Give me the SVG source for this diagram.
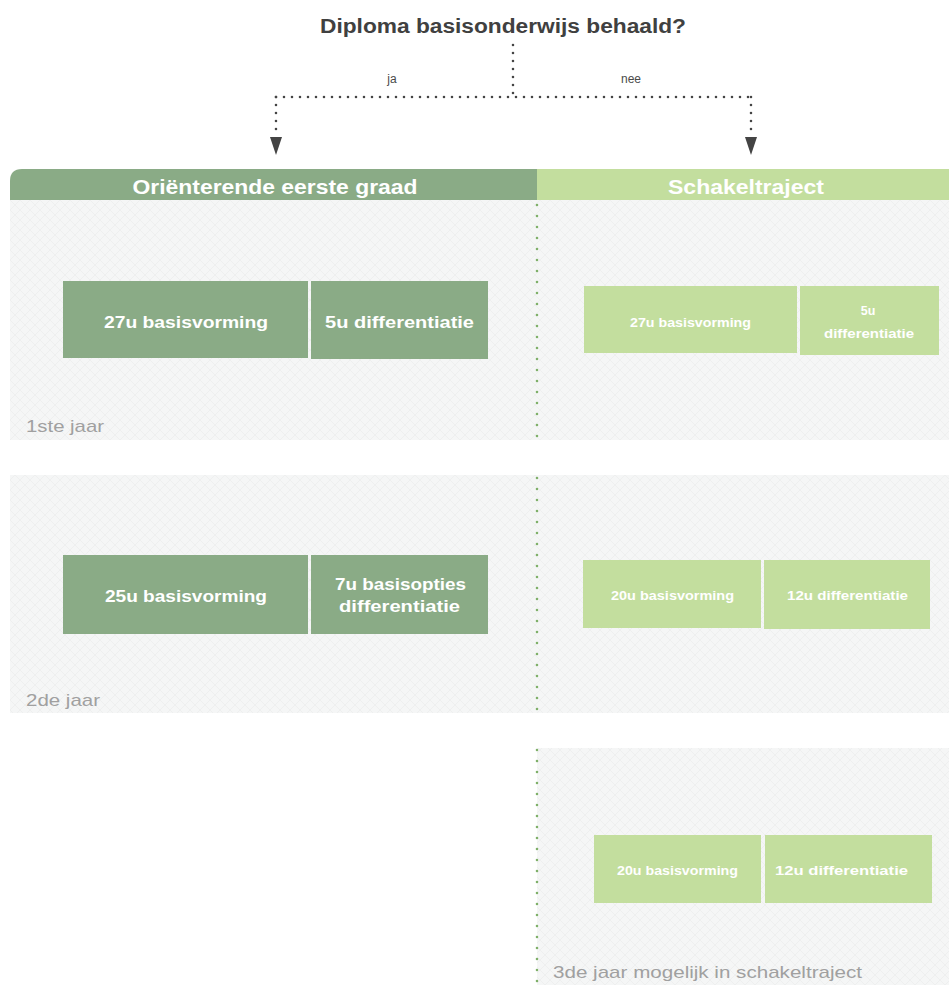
<svg xmlns="http://www.w3.org/2000/svg" width="949" height="985" viewBox="0 0 949 985">
<style>
.t{font-family:"Liberation Sans",Arial,sans-serif}
.dk{fill:#8aab86}
.lt{fill:#c3de9e}
.wb{fill:#ffffff;font-weight:bold}
.yr{fill:#a0a0a0;font-size:17px}
.dot{stroke:#444;stroke-width:2.6;stroke-linecap:round;stroke-dasharray:0 8;fill:none}
.gdot{stroke:#7fb069;stroke-width:2.6;stroke-linecap:round;stroke-dasharray:0 11;fill:none}
</style>
<defs>
<pattern id="hatch" width="10" height="10" patternUnits="userSpaceOnUse">
<rect width="10" height="10" fill="#f5f6f6"/>
<path d="M0,0 L10,10 M10,0 L0,10" stroke="#eeefef" stroke-width="1"/>
</pattern>
</defs>
<rect width="949" height="985" fill="#ffffff"/>

<g id="title">
<text class="t" x="503" y="33" text-anchor="middle" font-size="20" font-weight="bold" fill="#404040" textLength="366" lengthAdjust="spacingAndGlyphs">Diploma basisonderwijs behaald?</text>
</g>

<g id="panels">
<rect x="10" y="200" width="939" height="240" fill="url(#hatch)"/>
<rect x="10" y="475" width="939" height="238" fill="url(#hatch)"/>
<rect x="537" y="748" width="412" height="237" fill="url(#hatch)"/>
</g>

<g id="header-orienterend">
<path d="M10,200 L10,181 Q10,169 22,169 L537,169 L537,200 Z" class="dk"/>
<text class="t wb" x="275" y="194" text-anchor="middle" font-size="21" textLength="285" lengthAdjust="spacingAndGlyphs">Oriënterende eerste graad</text>
</g>
<g id="header-schakel">
<rect x="537" y="169" width="412" height="31" class="lt"/>
<text class="t wb" x="746" y="194" text-anchor="middle" font-size="21" textLength="156" lengthAdjust="spacingAndGlyphs">Schakeltraject</text>
</g>

<g id="dividers">
<line x1="537" y1="205" x2="537" y2="440" class="gdot"/>
<line x1="537" y1="478" x2="537" y2="713" class="gdot"/>
<line x1="537" y1="750" x2="537" y2="985" class="gdot"/>
</g>

<g id="y1-basis-left">
<rect x="63" y="281" width="245" height="77" class="dk"/>
<text class="t wb" x="186" y="328" text-anchor="middle" font-size="17" textLength="164" lengthAdjust="spacingAndGlyphs">27u basisvorming</text>
</g>
<g id="y1-diff-left">
<rect x="311" y="281" width="177" height="78" class="dk"/>
<text class="t wb" x="399.5" y="328" text-anchor="middle" font-size="17" textLength="149" lengthAdjust="spacingAndGlyphs">5u differentiatie</text>
</g>
<g id="y1-basis-right">
<rect x="584" y="286" width="213" height="67" class="lt"/>
<text class="t wb" x="690.5" y="327" text-anchor="middle" font-size="12.5" textLength="121" lengthAdjust="spacingAndGlyphs">27u basisvorming</text>
</g>
<g id="y1-diff-right">
<rect x="800" y="286" width="139" height="69" class="lt"/>
<text class="t wb" x="868" y="315" text-anchor="middle" font-size="12.5">5u</text>
<text class="t wb" x="869" y="338" text-anchor="middle" font-size="12.5" textLength="90" lengthAdjust="spacingAndGlyphs">differentiatie</text>
</g>
<g id="label-1ste">
<text class="t yr" x="26" y="432" textLength="78" lengthAdjust="spacingAndGlyphs">1ste jaar</text>
</g>

<g id="y2-basis-left">
<rect x="63" y="555" width="245" height="79" class="dk"/>
<text class="t wb" x="186" y="602" text-anchor="middle" font-size="17" textLength="162" lengthAdjust="spacingAndGlyphs">25u basisvorming</text>
</g>
<g id="y2-diff-left">
<rect x="311" y="555" width="177" height="79" class="dk"/>
<text class="t wb" x="400.5" y="590" text-anchor="middle" font-size="17" textLength="131" lengthAdjust="spacingAndGlyphs">7u basisopties</text>
<text class="t wb" x="399.5" y="612" text-anchor="middle" font-size="17" textLength="121" lengthAdjust="spacingAndGlyphs">differentiatie</text>
</g>
<g id="y2-basis-right">
<rect x="583" y="560" width="178" height="68" class="lt"/>
<text class="t wb" x="672.5" y="600" text-anchor="middle" font-size="12.5" textLength="123" lengthAdjust="spacingAndGlyphs">20u basisvorming</text>
</g>
<g id="y2-diff-right">
<rect x="764" y="560" width="166" height="69" class="lt"/>
<text class="t wb" x="847.5" y="600" text-anchor="middle" font-size="12.5" textLength="121" lengthAdjust="spacingAndGlyphs">12u differentiatie</text>
</g>
<g id="label-2de">
<text class="t yr" x="26" y="706" textLength="74" lengthAdjust="spacingAndGlyphs">2de jaar</text>
</g>

<g id="y3-basis-right">
<rect x="594" y="835" width="167" height="68" class="lt"/>
<text class="t wb" x="677.5" y="875" text-anchor="middle" font-size="12.5" textLength="121" lengthAdjust="spacingAndGlyphs">20u basisvorming</text>
</g>
<g id="y3-diff-right">
<rect x="765" y="835" width="167" height="68" class="lt"/>
<text class="t wb" x="841.5" y="875" text-anchor="middle" font-size="12.5" textLength="133" lengthAdjust="spacingAndGlyphs">12u differentiatie</text>
</g>
<g id="label-3de">
<text class="t yr" x="553" y="978" textLength="309" lengthAdjust="spacingAndGlyphs">3de jaar mogelijk in schakeltraject</text>
</g>

<g id="connectors">
<line x1="513" y1="45" x2="513" y2="97" class="dot"/>
<line x1="276" y1="97" x2="751" y2="97" class="dot"/>
<line x1="276" y1="97" x2="276" y2="131" class="dot"/>
<line x1="751" y1="97" x2="751" y2="131" class="dot"/>
<polygon points="270,137 282,137 276,155" fill="#444"/>
<polygon points="745,137 757,137 751,155" fill="#444"/>
<text class="t" x="392" y="83" text-anchor="middle" font-size="12" fill="#4a4a4a">ja</text>
<text class="t" x="631" y="83" text-anchor="middle" font-size="12" fill="#4a4a4a">nee</text>
</g>
</svg>
